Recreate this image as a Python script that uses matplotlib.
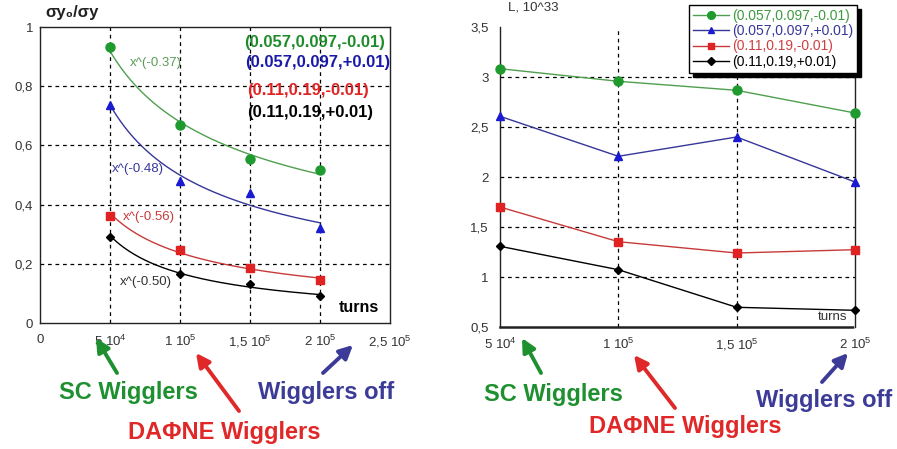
import numpy as np
import matplotlib
matplotlib.use("Agg")
import matplotlib.pyplot as plt

# ---------------- data ----------------
turns = [5e4, 1e5, 1.5e5, 2e5]
series_labels = ["(0.057,0.097,-0.01)", "(0.057,0.097,+0.01)",
                 "(0.11,0.19,-0.01)", "(0.11,0.19,+0.01)"]
sigma_ratio_green = [0.931, 0.669, 0.553, 0.518]
sigma_ratio_blue = [0.737, 0.480, 0.438, 0.320]
sigma_ratio_red = [0.362, 0.247, 0.187, 0.146]
sigma_ratio_black = [0.291, 0.167, 0.132, 0.090]
fit_labels = ["x^(-0.37)", "x^(-0.48)", "x^(-0.56)", "x^(-0.50)"]

lumi_green = [3.083, 2.957, 2.867, 2.640]
lumi_blue = [2.607, 2.207, 2.400, 1.950]
lumi_red = [1.700, 1.353, 1.240, 1.273]
lumi_black = [1.307, 1.073, 0.697, 0.667]

left_xticks = [0, 5e4, 1e5, 1.5e5, 2e5, 2.5e5]
left_xticklabels = ["0", r"5 10$^4$", r"1 10$^5$", r"1,5 10$^5$", r"2 10$^5$", r"2,5 10$^5$"]
left_yticks = [0, 0.2, 0.4, 0.6, 0.8, 1.0]
left_yticklabels = ["0", "0,2", "0,4", "0,6", "0,8", "1"]
right_xticks = [5e4, 1e5, 1.5e5, 2e5]
right_xticklabels = [r"5 10$^4$", r"1 10$^5$", r"1,5 10$^5$", r"2 10$^5$"]
right_yticks = [0.5, 1, 1.5, 2, 2.5, 3, 3.5]
right_yticklabels = ["0,5", "1", "1,5", "2", "2,5", "3", "3,5"]

# ---------------- style ----------------
plt.rcParams['font.family'] = ['Liberation Sans', 'DejaVu Sans']
plt.rcParams['mathtext.fontset'] = 'custom'
plt.rcParams['mathtext.rm'] = 'Liberation Sans'

W, H = 897, 449
fig = plt.figure(figsize=(W / 100, H / 100), dpi=100)
fig.patch.set_facecolor('white')

def fx(x):
    return x / W

def fy(y):
    return 1 - y / H

marker_colors = ['#1e9a2e', '#1a1ad0', '#e02222', '#000000']
line_colors = ['#4f9f4f', '#36369a', '#c83a3a', '#000000']
text_colors = ['#3f9a3f', '#36369a', '#d04040', '#000000']
markers = ['o', '^', 's', 'D']
msizes = [6.5, 5.5, 5.5, 4.5]
tick_color = '#333333'

# ---------------- left chart ----------------
axL = fig.add_axes([fx(40), fy(323), (390 - 40) / W, (323 - 27) / H])
left_series = [sigma_ratio_green, sigma_ratio_blue, sigma_ratio_red, sigma_ratio_black]
xs = np.array(turns)
xfit = np.linspace(turns[0], turns[-1], 200)
for ys, mc, lc, m, ms in zip(left_series, marker_colors, line_colors, markers, msizes):
    b, a = np.polyfit(np.log(xs), np.log(np.array(ys)), 1)
    axL.plot(xfit, np.exp(a) * xfit ** b, color=lc, lw=1.0, zorder=3)
    axL.plot(turns, ys, linestyle='none', marker=m, color=mc, ms=ms, zorder=4)

axL.set_xlim(0, 2.5e5)
axL.set_ylim(0, 1)
axL.set_xticks(left_xticks)
axL.set_xticklabels(left_xticklabels)
axL.set_yticks(left_yticks)
axL.set_yticklabels(left_yticklabels)
axL.tick_params(length=0, labelsize=9.5, colors=tick_color, pad=8)
axL.tick_params(axis='y', pad=5)
for v in [0.2, 0.4, 0.6, 0.8]:
    axL.axhline(v, color='black', lw=0.9, ls=(0, (3, 3)), zorder=1)
for v in [5e4, 1e5, 1.5e5, 2e5]:
    axL.axvline(v, color='black', lw=0.9, ls=(0, (3, 3)), zorder=1)
for s in axL.spines.values():
    s.set_color('#222222')
    s.set_linewidth(1.0)

# fit labels
fit_pos = [(130, 63), (112, 169), (123, 217), (120, 282)]
fit_cols = ['#5a9a5a', '#36369a', '#c83a3a', '#333333']
for lab, (px, py), c in zip(fit_labels, fit_pos, fit_cols):
    fig.text(fx(px), fy(py), lab, color=c, fontsize=9.5, ha='left', va='center')

# bold legend-like texts
leg_pos = [(385, 43), (390, 63), (369, 91), (373, 113)]
for lab, (px, py), c in zip(series_labels, leg_pos, ['#1e8c2a', '#1a1aa8', '#e02222', '#000000']):
    fig.text(fx(px), fy(py), lab, color=c, fontsize=12, fontweight='bold',
             ha='right', va='center')

fig.text(fx(339), fy(307), "turns", fontsize=11.5, fontweight='bold', ha='left', va='center')
fig.text(fx(45), fy(13), "σy₀/σy", fontsize=12, fontweight='bold', ha='left', va='center',
         color='#222222')

# ---------------- right chart ----------------
axR = fig.add_axes([fx(500), fy(327), (855 - 500) / W, (327 - 27) / H])
right_series = [lumi_green, lumi_blue, lumi_red, lumi_black]
handles = []
for ys, mc, lc, m, ms, lab in zip(right_series, marker_colors, line_colors, markers, msizes, series_labels):
    h, = axR.plot(turns, ys, color=lc, lw=1.0, marker=m, ms=ms, mfc=mc, mec=mc,
                  label=lab, zorder=4, clip_on=False)
    handles.append(h)

axR.set_xlim(5e4, 2e5)
axR.set_ylim(0.5, 3.5)
axR.set_xticks(right_xticks)
axR.set_xticklabels(right_xticklabels)
axR.set_yticks(right_yticks)
axR.set_yticklabels(right_yticklabels)
axR.tick_params(length=0, labelsize=9.5, colors=tick_color, pad=7)
axR.tick_params(axis='y', pad=8)
for v in [1, 1.5, 2, 2.5, 3]:
    axR.axhline(v, color='black', lw=0.9, ls=(0, (3, 3)), zorder=1)
for v in [1e5, 1.5e5]:
    axR.axvline(v, color='black', lw=0.9, ls=(0, (3, 3)), zorder=1)
axR.spines['top'].set_visible(False)
for k in ['left', 'right', 'bottom']:
    axR.spines[k].set_color('#222222')
    axR.spines[k].set_linewidth(1.0)
axR.spines['bottom'].set_linewidth(1.8)
axR.spines['bottom'].set_linestyle((0, (1, 1)))

leg = axR.legend(handles=handles, loc='upper right', bbox_to_anchor=(1.006, 1.075),
                 fontsize=10, frameon=True, fancybox=False, edgecolor='black',
                 shadow={'color': 'black', 'alpha': 1.0, 'ox': 3, 'oy': -3},
                 borderpad=0.3, labelspacing=0.1, handlelength=2.6, handletextpad=0.2,
                 borderaxespad=0.0, markerscale=0.85)
leg.get_frame().set_linewidth(1.0)
for t, c in zip(leg.get_texts(), text_colors):
    t.set_color(c)

fig.text(fx(508), fy(8), "L, 10^33", fontsize=9.5, ha='left', va='center', color='#333333')
fig.text(fx(847), fy(317), "turns", fontsize=9.5, ha='right', va='center', color='#333333')

# ---------------- annotations ----------------
ann_green = '#1e9030'
ann_red = '#e02828'
ann_blue = '#3c3c98'

def arrow(x0, y0, x1, y1, c):
    fig.add_artist(matplotlib.patches.FancyArrowPatch(
        (fx(x0), fy(y0)), (fx(x1), fy(y1)), transform=fig.transFigure,
        arrowstyle='-|>,head_width=4,head_length=8', lw=2.8, color=c,
        shrinkA=0, shrinkB=0))

fig.text(fx(59), fy(393), "SC Wigglers", color=ann_green, fontsize=17, fontweight='bold',
         ha='left', va='center')
fig.text(fx(128), fy(432), "DAΦNE Wigglers", color=ann_red, fontsize=17, fontweight='bold',
         ha='left', va='center')
fig.text(fx(258), fy(393), "Wigglers off", color=ann_blue, fontsize=17, fontweight='bold',
         ha='left', va='center')
arrow(117, 373, 96, 338, ann_green)
arrow(239, 411, 196, 353, ann_red)
arrow(323, 373, 353, 345, ann_blue)

fig.text(fx(484), fy(395), "SC Wigglers", color=ann_green, fontsize=17, fontweight='bold',
         ha='left', va='center')
fig.text(fx(589), fy(427), "DAΦNE Wigglers", color=ann_red, fontsize=17, fontweight='bold',
         ha='left', va='center')
fig.text(fx(756), fy(400), "Wigglers off", color=ann_blue, fontsize=17, fontweight='bold',
         ha='left', va='center')
arrow(541, 373, 522, 338, ann_green)
arrow(675, 408, 634, 355, ann_red)
arrow(822, 382, 848, 353, ann_blue)

fig.savefig("out.png", dpi=100, facecolor='white')
